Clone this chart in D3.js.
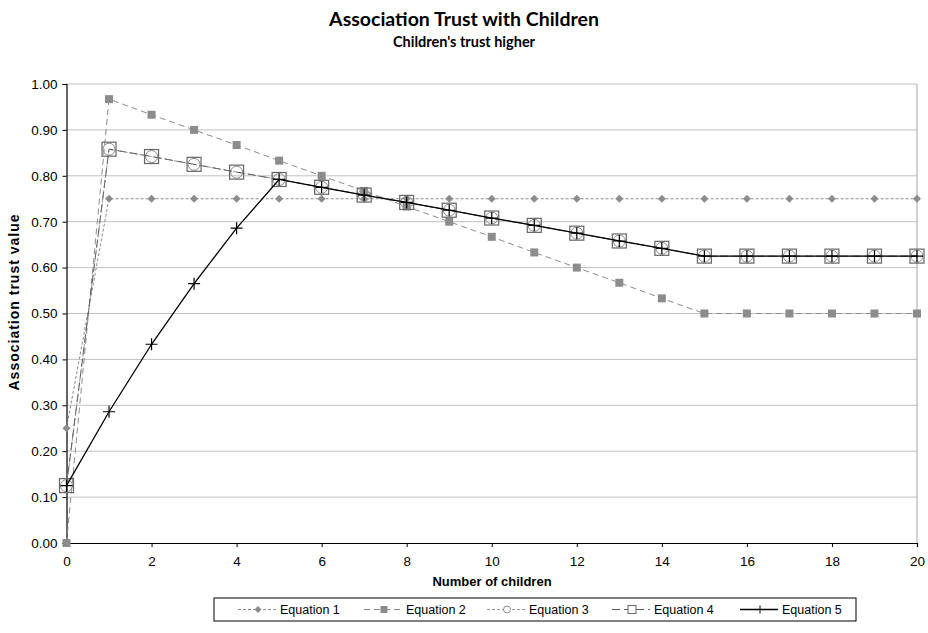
<!DOCTYPE html>
<html>
<head>
<meta charset="utf-8">
<script src="https://cdn.jsdelivr.net/npm/d3@7"></script>
<style>
  html, body { margin: 0; padding: 0; background: #fff; }
  svg { display: block; }
</style>
</head>
<body>
<svg id="chart" width="928" height="633"></svg>
<script>
const titleText = "Association Trust with Children";
const subtitleText = "Children's trust higher";
const xTitle = "Number of children";
const yTitle = "Association trust value";

const children = [0,1,2,3,4,5,6,7,8,9,10,11,12,13,14,15,16,17,18,19,20];
const eq1 = [0.25,0.75,0.75,0.75,0.75,0.75,0.75,0.75,0.75,0.75,0.75,0.75,0.75,0.75,0.75,0.75,0.75,0.75,0.75,0.75,0.75];
const eq2 = [0.0,0.967,0.933,0.9,0.867,0.833,0.8,0.767,0.733,0.7,0.667,0.633,0.6,0.567,0.533,0.5,0.5,0.5,0.5,0.5,0.5];
const eq3 = [0.125,0.858,0.842,0.825,0.808,0.792,0.775,0.758,0.742,0.725,0.708,0.692,0.675,0.658,0.642,0.625,0.625,0.625,0.625,0.625,0.625];
const eq4 = [0.125,0.858,0.842,0.825,0.808,0.792,0.775,0.758,0.742,0.725,0.708,0.692,0.675,0.658,0.642,0.625,0.625,0.625,0.625,0.625,0.625];
const eq5 = [0.125,0.286,0.433,0.565,0.686,0.792,0.775,0.758,0.742,0.725,0.708,0.692,0.675,0.658,0.642,0.625,0.625,0.625,0.625,0.625,0.625];
const seriesNames = ["Equation 1","Equation 2","Equation 3","Equation 4","Equation 5"];
const xTicks = [0,2,4,6,8,10,12,14,16,18,20];
const yTicks = [0,0.1,0.2,0.3,0.4,0.5,0.6,0.7,0.8,0.9,1.0];

(function(){
const svg = d3.select("#chart");
const pLeft = 66.5, pRight = 917, pTop = 84, pBottom = 543;

const x = d3.scaleLinear().domain([0,20]).range([pLeft,pRight]);
const y = d3.scaleLinear().domain([0,1]).range([pBottom,pTop]);

const styles = [
  {color:"#8c8c8c", dash:"3,2", width:1, marker:"diamond"},
  {color:"#8c8c8c", dash:"6,4", width:1, marker:"squareFill"},
  {color:"#999999", dash:"3,2", width:1, marker:"circle"},
  {color:"#5f5f5f", dash:"8,4", width:1, marker:"squareOpen"},
  {color:"#000000", dash:null, width:1.3, marker:"plus"}
];
const data = [eq1,eq2,eq3,eq4,eq5];

// Title
svg.append("text").attr("x",464).attr("y",26).attr("text-anchor","middle")
  .attr("font-family","Lato, 'Open Sans', sans-serif").attr("font-weight","bold")
  .attr("font-size",19.5).attr("fill","#000").text(titleText);
svg.append("text").attr("x",464).attr("y",47).attr("text-anchor","middle")
  .attr("font-family","Lato, 'Open Sans', sans-serif").attr("font-weight","bold")
  .attr("font-size",14.5).attr("fill","#000").text(subtitleText);

// Gridlines
const grid = svg.append("g");
grid.selectAll("line.h").data(yTicks.filter(d=>d>0)).join("line")
  .attr("x1",pLeft).attr("x2",pRight).attr("y1",d=>y(d)).attr("y2",d=>y(d))
  .attr("stroke","#c0c0c0").attr("stroke-width",1);
grid.append("line").attr("x1",pRight).attr("x2",pRight).attr("y1",pTop).attr("y2",pBottom)
  .attr("stroke","#a6a6a6").attr("stroke-width",1);

// Axes
const font = "'Liberation Sans', Arial, sans-serif";
const yAxis = svg.append("g").attr("transform",`translate(${pLeft},0)`)
  .call(d3.axisLeft(y).tickValues(yTicks).tickFormat(d3.format(".2f")).tickSize(4).tickPadding(5));
const xAxis = svg.append("g").attr("transform",`translate(0,${pBottom})`)
  .call(d3.axisBottom(x).tickValues(xTicks).tickFormat(d3.format("d")).tickSize(4).tickPadding(9));
[yAxis,xAxis].forEach(g=>{
  g.select(".domain").attr("stroke","#000").attr("stroke-width",1.2);
  g.selectAll(".tick line").attr("stroke","#000");
  g.selectAll(".tick text").attr("font-family",font).attr("font-size",13.5).attr("fill","#000");
});

// Axis titles
svg.append("text").attr("x",492).attr("y",586).attr("text-anchor","middle")
  .attr("font-family",font).attr("font-weight","bold").attr("font-size",13).text(xTitle);
svg.append("text").attr("transform","translate(19,302) rotate(-90)").attr("text-anchor","middle")
  .attr("font-family",font).attr("font-weight","bold").attr("font-size",14)
  .attr("letter-spacing",1).text(yTitle);

function drawMarker(g, type, cx, cy, st) {
  if (type === "diamond") {
    g.append("path").attr("d",`M${cx},${cy-4}L${cx+4},${cy}L${cx},${cy+4}L${cx-4},${cy}Z`)
      .attr("fill",st.color).attr("stroke","none");
  } else if (type === "squareFill") {
    g.append("rect").attr("x",cx-4).attr("y",cy-4).attr("width",8).attr("height",8)
      .attr("fill",st.color);
  } else if (type === "circle") {
    g.append("circle").attr("cx",cx).attr("cy",cy).attr("r",6)
      .attr("fill","none").attr("stroke","#8c8c8c").attr("stroke-width",1);
  } else if (type === "squareOpen") {
    g.append("rect").attr("x",cx-7).attr("y",cy-7).attr("width",14).attr("height",14)
      .attr("fill","none").attr("stroke","#666").attr("stroke-width",1.2);
  } else if (type === "plus") {
    g.append("path").attr("d",`M${cx-6},${cy}H${cx+6}M${cx},${cy-6}V${cy+6}`)
      .attr("stroke","#000").attr("stroke-width",1.2);
  }
}

const line = d3.line().x((d,i)=>x(children[i])).y(d=>y(d));
const plot = svg.append("g");
data.forEach((vals,k)=>{
  const st = styles[k];
  const g = plot.append("g");
  g.append("path").datum(vals).attr("d",line).attr("fill","none")
    .attr("stroke",st.color).attr("stroke-width",st.width)
    .attr("stroke-dasharray",st.dash);
  vals.forEach((v,i)=> drawMarker(g, st.marker, x(children[i]), y(v), st));
});

// Legend
const legend = svg.append("g");
const lgTop = 598, lgBottom = 621, lgCy = (lgTop+lgBottom)/2;
legend.append("rect").attr("x",214).attr("y",lgTop).attr("width",642).attr("height",lgBottom-lgTop)
  .attr("fill","#fff").attr("stroke","#000").attr("stroke-width",1);
const markerX = [258,384,507,632,760];
seriesNames.forEach((name,k)=>{
  const st = styles[k];
  const mx = markerX[k];
  const g = legend.append("g");
  g.append("line").attr("x1",mx-20).attr("x2",mx+18).attr("y1",lgCy).attr("y2",lgCy)
    .attr("stroke",st.color).attr("stroke-width",st.width).attr("stroke-dasharray",st.dash);
  if (st.marker === "circle") {
    g.append("circle").attr("cx",mx).attr("cy",lgCy).attr("r",3.5).attr("fill","#fff").attr("stroke","#8c8c8c");
  } else if (st.marker === "squareOpen") {
    g.append("rect").attr("x",mx-4).attr("y",lgCy-4).attr("width",8).attr("height",8).attr("fill","#fff").attr("stroke","#666");
  } else if (st.marker === "plus") {
    g.append("path").attr("d",`M${mx},${lgCy-4}V${lgCy+4}`).attr("stroke","#000");
  } else if (st.marker === "diamond") {
    g.append("path").attr("d",`M${mx},${lgCy-3.5}L${mx+3.5},${lgCy}L${mx},${lgCy+3.5}L${mx-3.5},${lgCy}Z`).attr("fill",st.color);
  } else {
    g.append("rect").attr("x",mx-3.5).attr("y",lgCy-3.5).attr("width",7).attr("height",7).attr("fill",st.color);
  }
  g.append("text").attr("x",mx+22).attr("y",lgCy+4.5).attr("font-family",font).attr("font-size",12.5)
    .attr("fill","#000").text(name);
});
})();
</script>
</body>
</html>
